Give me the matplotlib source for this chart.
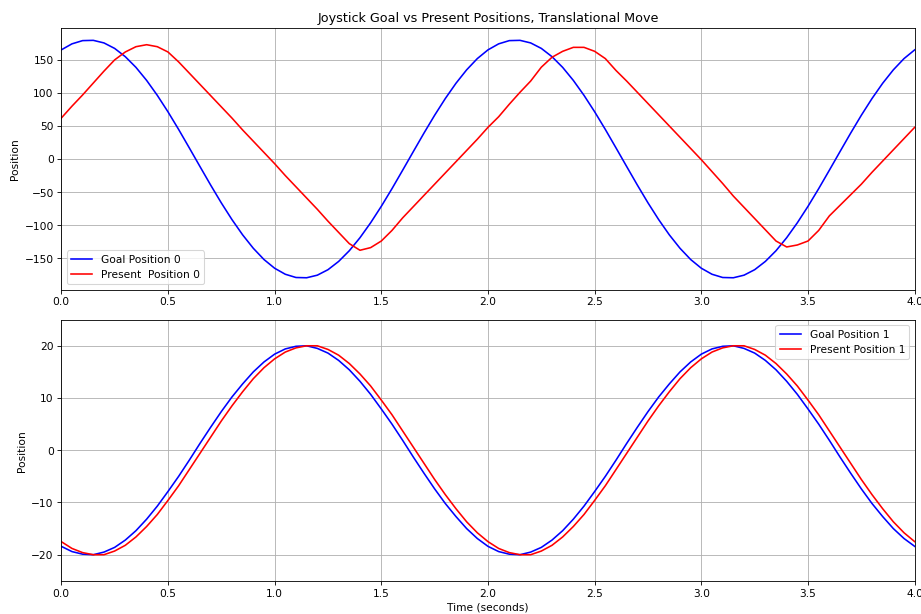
import matplotlib
matplotlib.use("Agg")
import matplotlib.pyplot as plt

# sample times (s)
time = [round(i * 0.05, 2) for i in range(81)]

# joint 0 (translational)
goal_0 = [165.2, 174.3, 179.2, 179.6, 175.7, 167.4, 154.9, 138.7, 119.0, 96.4,
          71.5, 44.8, 16.9, -11.3, -39.3, -66.3, -91.6, -114.7, -135.0, -152.0,
          -165.2, -174.3, -179.2, -179.6, -175.7, -167.4, -154.9, -138.7, -119.0, -96.4,
          -71.5, -44.8, -16.9, 11.3, 39.3, 66.3, 91.6, 114.7, 135.0, 152.0,
          165.2, 174.3, 179.2, 179.6, 175.7, 167.4, 154.9, 138.7, 119.0, 96.4,
          71.5, 44.8, 16.9, -11.3, -39.3, -66.3, -91.6, -114.7, -135.0, -152.0,
          -165.2, -174.3, -179.2, -179.6, -175.7, -167.4, -154.9, -138.7, -119.0, -96.4,
          -71.5, -44.8, -16.9, 11.3, 39.3, 66.3, 91.6, 114.7, 135.0, 152.0,
          165.2]
present_0 = [62, 80, 97, 115, 133, 150, 162, 170, 173, 170,
             162, 147, 130, 113, 96, 79, 62, 44, 27, 10,
             -7, -25, -42, -59, -76, -94, -111, -128, -138, -134,
             -124, -108, -89, -72, -55, -38, -21, -4, 13, 30,
             48, 64, 83, 101, 118, 139, 154, 163, 169, 169,
             163, 152, 134, 118, 101, 84, 67, 50, 33, 16,
             -1, -19, -37, -56, -73, -90, -107, -124, -133, -130,
             -124, -108, -86, -70, -54, -38, -20, -3, 14, 31,
             48]

# joint 1
goal_1 = [-18.4, -19.4, -19.9, -20.0, -19.5, -18.6, -17.2, -15.4, -13.2, -10.7,
          -7.9, -5.0, -1.9, 1.3, 4.4, 7.4, 10.2, 12.7, 15.0, 16.9,
          18.4, 19.4, 19.9, 20.0, 19.5, 18.6, 17.2, 15.4, 13.2, 10.7,
          7.9, 5.0, 1.9, -1.3, -4.4, -7.4, -10.2, -12.7, -15.0, -16.9,
          -18.4, -19.4, -19.9, -20.0, -19.5, -18.6, -17.2, -15.4, -13.2, -10.7,
          -7.9, -5.0, -1.9, 1.3, 4.4, 7.4, 10.2, 12.7, 15.0, 16.9,
          18.4, 19.4, 19.9, 20.0, 19.5, 18.6, 17.2, 15.4, 13.2, 10.7,
          7.9, 5.0, 1.9, -1.3, -4.4, -7.4, -10.2, -12.7, -15.0, -16.9,
          -18.4]
present_1 = [-17.5, -18.8, -19.6, -20.0, -20.0, -19.3, -18.2, -16.6, -14.6, -12.3,
             -9.6, -6.8, -3.7, -0.6, 2.5, 5.6, 8.5, 11.2, 13.7, 15.8,
             17.5, 18.8, 19.6, 20.0, 20.0, 19.3, 18.2, 16.6, 14.6, 12.3,
             9.6, 6.8, 3.7, 0.6, -2.5, -5.6, -8.5, -11.2, -13.7, -15.8,
             -17.5, -18.8, -19.6, -20.0, -20.0, -19.3, -18.2, -16.6, -14.6, -12.3,
             -9.6, -6.8, -3.7, -0.6, 2.5, 5.6, 8.5, 11.2, 13.7, 15.8,
             17.5, 18.8, 19.6, 20.0, 20.0, 19.3, 18.2, 16.6, 14.6, 12.3,
             9.6, 6.8, 3.7, 0.6, -2.5, -5.6, -8.5, -11.2, -13.7, -15.8,
             -17.5]

fig, (ax0, ax1) = plt.subplots(2, 1, figsize=(12, 8), dpi=76.8)
fig.subplots_adjust(left=0.0665, right=0.9925, top=0.953, bottom=0.054, hspace=0.115)

ax0.plot(time, goal_0, color="blue", label="Goal Position 0")
ax0.plot(time, present_0, color="red", label="Present  Position 0")
ax0.set_title("Joystick Goal vs Present Positions, Translational Move")
ax0.set_ylabel("Position")
ax0.set_xlim(0, 4)
ax0.grid(True)
ax0.legend(loc="lower left")

ax1.plot(time, goal_1, color="blue", label="Goal Position 1")
ax1.plot(time, present_1, color="red", label="Present Position 1")
ax1.set_xlabel("Time (seconds)")
ax1.set_ylabel("Position")
ax1.set_xlim(0, 4)
ax1.set_ylim(-25, 25)
ax1.grid(True)
ax1.legend(loc="upper right")

plt.savefig("out.png", dpi=76.8)
